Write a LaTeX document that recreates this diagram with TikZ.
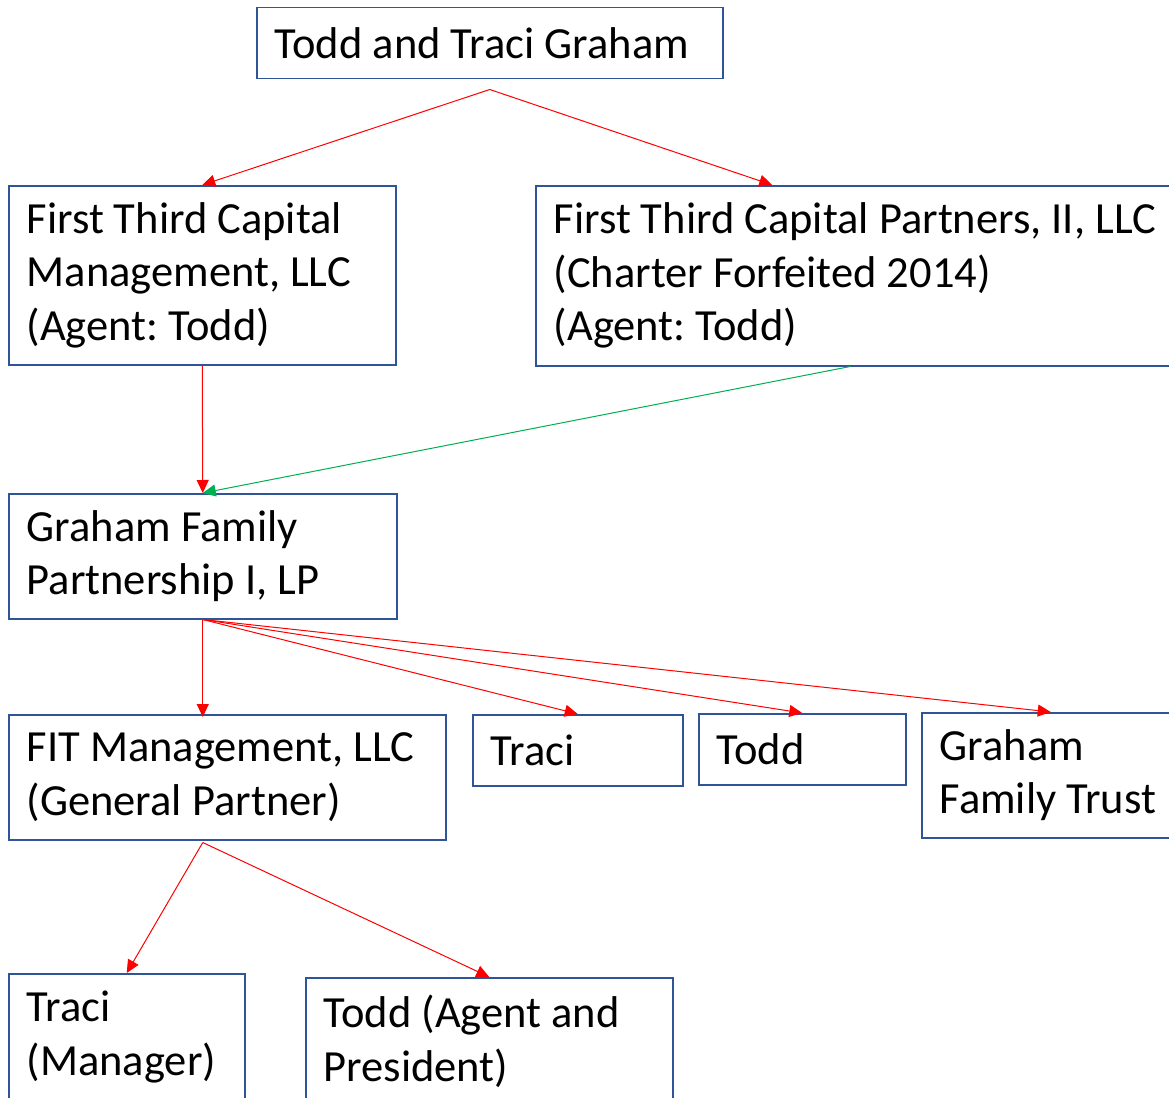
\documentclass[tikz,border=0pt]{standalone}
\usepackage{fontspec}
\setmainfont{Carlito}
\usepackage{tikz}
\usetikzlibrary{arrows.meta}

\definecolor{boxblue}{HTML}{2F5597}
\definecolor{linkgreen}{HTML}{00B050}
\frenchspacing

\begin{document}
\begin{tikzpicture}[x=1pt,y=-1pt,
    entity/.style={draw=boxblue,line width=1.5pt,anchor=north west,align=flush left,
      inner xsep=18pt,inner ysep=0pt,font=\fontsize{44.5}{53.5}\selectfont},
    link/.style={red,line width=1pt,-{Triangle[length=13pt,width=12pt]}}]
            \useasboundingbox (0,0) rectangle (1169,1097);
            \clip (0,0) rectangle (1169,1097);
            \node[entity,minimum width=466pt,minimum height=71pt,text width=430pt] (owners) at (256,7) {Todd and Traci Graham};
            \node[entity,minimum width=387pt,minimum height=179pt,text width=351pt] (ftcm) at (8,185) {First Third Capital\\Management, LLC\\(Agent: Todd)};
            \node[entity,minimum width=645pt,minimum height=180pt,text width=609pt] (ftcp) at (535,185) {First Third Capital Partners, II, LLC\\(Charter Forfeited 2014)\\(Agent: Todd)};
            \node[entity,minimum width=388pt,minimum height=125pt,text width=352pt] (gfp) at (8,493) {Graham Family\\Partnership I, LP};
            \node[entity,minimum width=437pt,minimum height=125pt,text width=401pt] (fit) at (8,714) {FIT Management, LLC\\(General Partner)};
            \node[entity,minimum width=210pt,minimum height=71pt,text width=174pt] (traci) at (472,714) {Traci};
            \node[entity,minimum width=207pt,minimum height=71pt,text width=171pt] (todd) at (698,713) {Todd};
            \node[entity,minimum width=250pt,minimum height=125pt,text width=222pt] (trust) at (921,712) {Graham\\Family Trust};
            \node[entity,minimum width=236pt,minimum height=127pt,text width=200pt] (tracimgr) at (8,973) {Traci\\(Manager)};
            \node[entity,minimum width=367pt,minimum height=127pt,text width=331pt] (toddpres) at (305,977) {Todd (Agent and\\President)};
            % split points below the boxes
            \coordinate (ownersout) at ([yshift=-10pt]owners.south);
            \coordinate (ftcpout) at ([xshift=-8pt]ftcp.south);
            \coordinate (fitout) at ([yshift=-2pt]fit.south -| gfp.south);
            \draw[link] (ownersout) -- (ftcm.north);
            \draw[link] (ownersout) -- ([xshift=-86pt]ftcp.north);
            \draw[link] (ftcm.south) -- (gfp.north);
            \draw[link,linkgreen] (ftcpout) -- (gfp.north);
            \draw[link] (gfp.south) -- ([yshift=-3pt]fit.north -| gfp.south);
            \draw[link] (gfp.south) -- (traci.north);
            \draw[link] (gfp.south) -- (todd.north);
            \draw[link] (gfp.south) -- (trust.north);
            \draw[link] (fitout) -- (tracimgr.north);
            \draw[link] (fitout) -- (toddpres.north);
\end{tikzpicture}
\end{document}
